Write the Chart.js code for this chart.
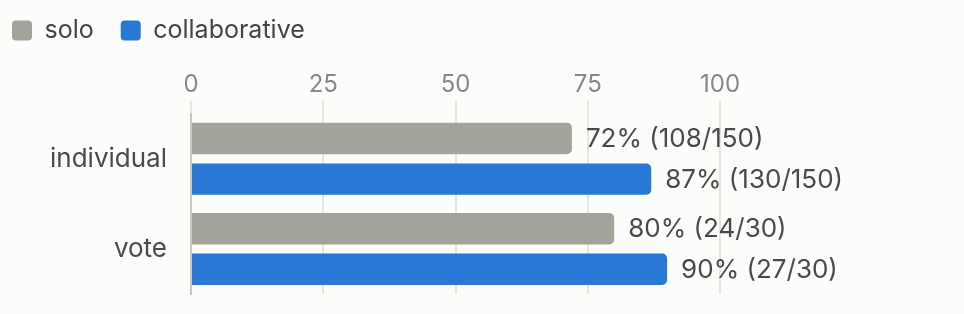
<!DOCTYPE html>
<html>
<head>
<meta charset="utf-8">
<script src="https://cdn.jsdelivr.net/npm/chart.js@4"></script>
<style>
  html, body { margin: 0; padding: 0; background: #fcfcfa; overflow: hidden; }
  canvas { display: block; }
</style>
</head>
<body>
<canvas id="c" width="964" height="314"></canvas>
<script>
const categories = ["individual", "vote"];
const seriesNames = ["solo", "collaborative"];
const soloPct = [72, 80];
const collabPct = [87, 90];
const soloLabels = ["72% (108/150)", "80% (24/30)"];
const collabLabels = ["87% (130/150)", "90% (27/30)"];
const xTicks = [0, 25, 50, 75, 100];

const FONT = "Inter, 'Noto Sans', sans-serif";

const legendSpacer = {
  id: 'legendSpacer',
  beforeLayout(chart) {
    const lg = chart.legend;
    if (lg && !lg._spacerPatched) {
      const f = lg.fit;
      lg.fit = function () { f.apply(this, arguments); this.height += 15; };
      lg._spacerPatched = true;
    }
  }
};

const barLabels = {
  id: 'barLabels',
  afterDatasetsDraw(chart) {
    const ctx = chart.ctx;
    ctx.save();
    ctx.font = "26px " + FONT;
    ctx.fillStyle = "#4a4a4a";
    ctx.textBaseline = "middle";
    ctx.textAlign = "left";
    chart.data.datasets.forEach((ds, di) => {
      const meta = chart.getDatasetMeta(di);
      meta.data.forEach((el, i) => {
        ctx.fillText(ds.valueLabels[i], el.x + 14, el.y + 1);
      });
    });
    ctx.restore();
  }
};

new Chart(document.getElementById('c'), {
  type: 'bar',
  data: {
    labels: categories,
    datasets: [
      { label: seriesNames[0], data: soloPct, valueLabels: soloLabels,
        backgroundColor: '#a3a29b', borderRadius: 5, borderSkipped: 'start',
        categoryPercentage: 0.9, barPercentage: 0.775 },
      { label: seriesNames[1], data: collabPct, valueLabels: collabLabels,
        backgroundColor: '#2a78d6', borderRadius: 5, borderSkipped: 'start',
        categoryPercentage: 0.9, barPercentage: 0.775 }
    ]
  },
  options: {
    indexAxis: 'y',
    responsive: false,
    maintainAspectRatio: false,
    animation: false,
    layout: { padding: { left: -15, right: 244, top: -9, bottom: 20 } },
    plugins: {
      legend: {
        position: 'top', align: 'start',
        labels: {
          boxWidth: 20, boxHeight: 20, useBorderRadius: true, borderRadius: 4,
          padding: 27, color: '#444', font: { family: FONT, size: 25 }
        }
      },
      tooltip: { enabled: false }
    },
    scales: {
      x: {
        position: 'top', min: 0, max: 100,
        afterBuildTicks(scale) { scale.ticks = xTicks.map(v => ({ value: v })); },
        grid: { color: '#e6e6e0', tickLength: 13, lineWidth: 2 },
        border: { display: false },
        ticks: { color: '#888', font: { family: FONT, size: 24 }, padding: 2 }
      },
      y: {
        grid: { display: false, drawTicks: true, tickLength: 22 },
        border: { display: true, color: '#c8c8c0', width: 2 },
        ticks: { color: '#4a4a4a', font: { family: FONT, size: 26 }, padding: 2 },
        afterFit(scale) { scale.width = 206; }
      }
    }
  },
  plugins: [legendSpacer, barLabels]
});
</script>
</body>
</html>
